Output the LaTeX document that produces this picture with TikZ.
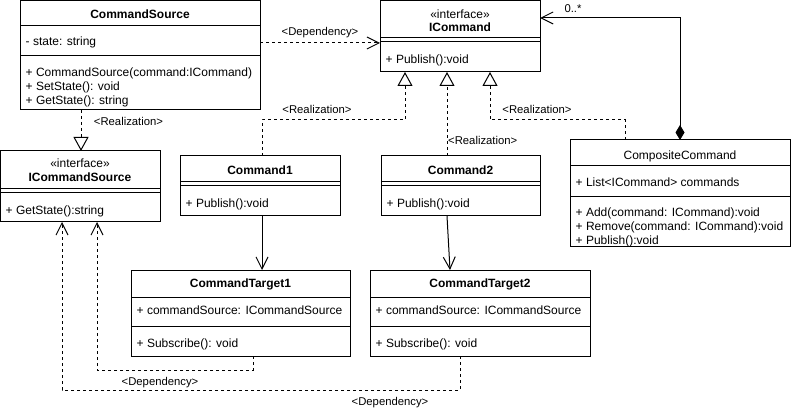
\documentclass[tikz,border=0pt]{standalone}
\usepackage{fontspec}
\setmainfont{Liberation Sans}
\usetikzlibrary{arrows.meta}
\tikzset{
  cls/.style={draw, line width=1pt, inner sep=0pt, outer sep=0pt, anchor=north west},
  txt/.style={inner sep=0pt, anchor=base west, font=\fontsize{12}{14}\selectfont},
  ttl/.style={inner sep=0pt, anchor=base, font=\fontsize{12}{14}\selectfont\bfseries},
  ttlr/.style={inner sep=0pt, anchor=base, font=\fontsize{12}{14}\selectfont},
  lbl/.style={inner sep=0pt, anchor=base, font=\fontsize{11.3}{13}\selectfont},
  lblw/.style={inner sep=0pt, anchor=base west, font=\fontsize{11.3}{13}\selectfont},
  sep/.style={line width=1pt},
  dep/.style={line width=1pt, dash pattern=on 3pt off 3pt, -{Straight Barb[length=12pt,width=12pt]}},
  assoc/.style={line width=1pt, -{Straight Barb[length=12pt,width=12pt]}},
  real/.style={line width=1pt, dash pattern=on 3pt off 3pt, -{Triangle[open,length=14pt,width=15pt,fill=white]}},
  comp/.style={line width=1pt, {Diamond[length=15pt,width=9pt]}-{Straight Barb[length=12pt,width=12pt]}},
}
\begin{document}
\begin{tikzpicture}[x=1pt,y=-1pt]
\useasboundingbox (0,0) rectangle (791,411);

% CommandSource
\node[cls, minimum width=240pt, minimum height=109pt] (cs) at (20,1) {};
\draw[sep] (20,26) -- (260,26);
\draw[sep] (20,56) -- (260,56);
\node[ttl] (csT) at (140,18.3) {CommandSource};
\node[txt] (csA) at (25.5,45.3) {- state: string};
\node[txt] (csM1) at (25.5,76.6) {+ CommandSource(command:ICommand)};
\node[txt] (csM2) at (25.5,90.8) {+ SetState(): void};
\node[txt] (csM3) at (25.5,105) {+ GetState(): string};

% ICommand
\node[cls, minimum width=160pt, minimum height=71pt] (ic) at (380,1) {};
\draw[sep] (380,38) -- (540,38);
\draw[sep] (380,42) -- (540,42);
\node[ttlr] (icS) at (460,18.3) {«interface»};
\node[ttl] (icT) at (460,31.3) {ICommand};
\node[txt] (icM) at (385.5,64) {+ Publish():void};

% ICommandSource
\node[cls, minimum width=160pt, minimum height=71pt] (ics) at (0,151) {};
\draw[sep] (0,189) -- (160,189);
\draw[sep] (0,193) -- (160,193);
\node[ttlr] (icsS) at (80,167.3) {«interface»};
\node[ttl] (icsT) at (80,181.3) {ICommandSource};
\node[txt] (icsM) at (5.5,214.3) {+ GetState():string};

% Command1
\node[cls, minimum width=160pt, minimum height=60pt] (c1) at (180,156) {};
\draw[sep] (180,182) -- (340,182);
\draw[sep] (180,186) -- (340,186);
\node[ttl] (c1T) at (260,174.3) {Command1};
\node[txt] (c1M) at (185.5,207.3) {+ Publish():void};

% Command2
\node[cls, minimum width=159pt, minimum height=60pt] (c2) at (381,156) {};
\draw[sep] (381,182) -- (540,182);
\draw[sep] (381,186) -- (540,186);
\node[ttl] (c2T) at (460.5,174.3) {Command2};
\node[txt] (c2M) at (386.5,207.3) {+ Publish():void};

% CompositeCommand
\node[cls, minimum width=220pt, minimum height=107pt] (cc) at (570,140) {};
\draw[sep] (570,166) -- (790,166);
\draw[sep] (570,197) -- (790,197);
\node[ttlr] (ccT) at (680,159.3) {CompositeCommand};
\node[txt] (ccA) at (575.5,186.3) {+ List<ICommand> commands};
\node[txt] (ccM1) at (575.5,216.3) {+ Add(command: ICommand):void};
\node[txt] (ccM2) at (575.5,231) {+ Remove(command: ICommand):void};
\node[txt] (ccM3) at (575.5,245) {+ Publish():void};

% CommandTarget1
\node[cls, minimum width=219pt, minimum height=86pt] (ct1) at (131,270) {};
\draw[sep] (131,297) -- (350,297);
\draw[sep] (131,326) -- (350,326);
\node[ttl] (ct1T) at (240.5,287.3) {CommandTarget1};
\node[txt] (ct1A) at (136.5,314.3) {+ commandSource: ICommandSource};
\node[txt] (ct1M) at (136.5,347.3) {+ Subscribe(): void};

% CommandTarget2
\node[cls, minimum width=220pt, minimum height=86pt] (ct2) at (370,270) {};
\draw[sep] (370,297) -- (590,297);
\draw[sep] (370,326) -- (590,326);
\node[ttl] (ct2T) at (480,287.3) {CommandTarget2};
\node[txt] (ct2A) at (375.5,314.3) {+ commandSource: ICommandSource};
\node[txt] (ct2M) at (375.5,347.3) {+ Subscribe(): void};

% Connectors
\draw[dep] (cs.east |- 0,43) -- (ic.west |- 0,43);
\node[lbl] (l1) at (320,36) {<Dependency>};

\draw[real] (81,0 |- cs.south) -- (81,0 |- ics.north);
\node[lbl] (l2) at (128.5,126) {<Realization>};

\draw[real] (262,0 |- c1.north) |- (405,120) -- (405,0 |- ic.south);
\node[lbl] (l3) at (317,114) {<Realization>};

\draw[real] (447,0 |- c2.north) -- (447,0 |- ic.south);
\node[lblw] (l4) at (448,145) {<Realization>};

\draw[real] (625,0 |- cc.north) |- (490,120) -- (490,0 |- ic.south);
\node[lbl] (l5) at (537,114) {<Realization>};

\draw[comp] (680,0 |- cc.north) |- (ic.east |- 0,18);
\node[lbl] (l6) at (573,13) {0..*};

\draw[assoc] (262,0 |- c1.south) -- (262,0 |- ct1.north);
\draw[assoc] (447,0 |- c2.south) -- (450,0 |- ct2.north);

\draw[dep] (253,0 |- ct1.south) |- (97,370) -- (97,0 |- ics.south);
\node[lbl] (l7) at (160,385) {<Dependency>};

\draw[dep] (460,0 |- ct2.south) |- (62,390) -- (62,0 |- ics.south);
\node[lbl] (l8) at (390,405.5) {<Dependency>};
\end{tikzpicture}
\end{document}
